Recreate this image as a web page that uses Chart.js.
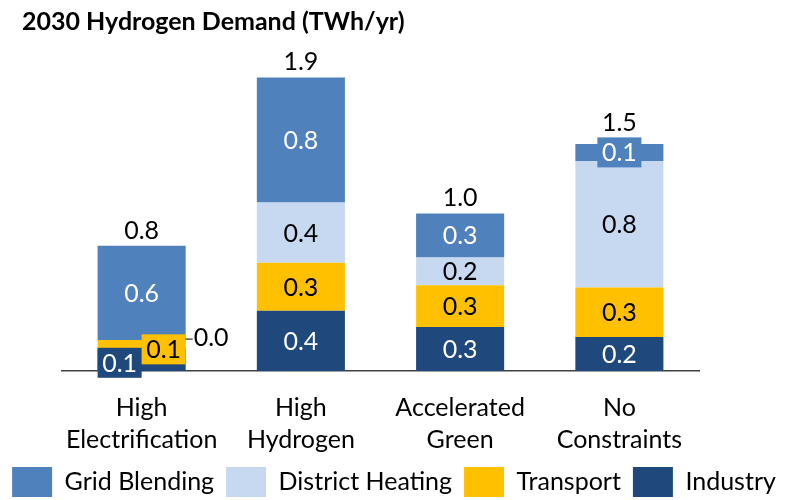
<!DOCTYPE html>
<html>
<head>
<meta charset="utf-8">
<script src="https://cdn.jsdelivr.net/npm/chart.js@4.4.1/dist/chart.umd.min.js"></script>
<style>
  html, body { margin: 0; padding: 0; background: #fff; }
</style>
</head>
<body>
<canvas id="chart" width="788" height="500"></canvas>
<script>
// values in TWh/yr
const scenarios = [['High', 'Electrification'], ['High', 'Hydrogen'], ['Accelerated', 'Green'], ['No', 'Constraints']];
const industry = [0.145, 0.39, 0.285, 0.22];
const transport = [0.055, 0.31, 0.27, 0.32];
const districtHeating = [0.0, 0.39, 0.18, 0.82];
const gridBlending = [0.61, 0.81, 0.285, 0.11];

const colors = {
  industry: '#1F497D',
  transport: '#FFC000',
  district: '#C6D9F1',
  grid: '#4F81BD',
};
// label text colour per dataset (same order as datasets below)
const labelColors = ['#fff', '#000', '#000', '#fff'];

// small segments get a boxed label nudged off the bar, like the original
const tweaks = {
  '0-0': { dx: -22, dy: 3, box: true },
  '1-0': { dx: 22, dy: 5, box: true },
  '2-0': { side: true },
  '3-3': { box: true },
  'total-3': { dy: -6 },
};

const FONT = 'Lato, sans-serif';
Chart.defaults.font.family = FONT;
Chart.defaults.color = '#000';

const segmentLabels = {
  id: 'segmentLabels',
  afterDatasetsDraw(chart) {
    const ctx = chart.ctx;
    ctx.save();
    ctx.font = '25px ' + FONT;
    ctx.textBaseline = 'middle';
    chart.data.datasets.forEach((ds, di) => {
      const meta = chart.getDatasetMeta(di);
      meta.data.forEach((bar, i) => {
        const text = ds.data[i].toFixed(1);
        const tw = tweaks[di + '-' + i] || {};
        const x = bar.x + (tw.dx || 0);
        const y = (bar.y + bar.base) / 2 + (tw.dy || 0);
        if (tw.side) {
          const right = bar.x + bar.width / 2;
          ctx.strokeStyle = '#000';
          ctx.lineWidth = 1;
          ctx.beginPath();
          ctx.moveTo(right, y - 1);
          ctx.lineTo(right + 7, y - 1);
          ctx.stroke();
          ctx.fillStyle = '#000';
          ctx.textAlign = 'left';
          ctx.fillText(text, right + 8, y - 2);
          return;
        }
        if (tw.box) {
          ctx.fillStyle = ds.backgroundColor;
          ctx.fillRect(x - 22, y - 15, 44, 30);
        }
        ctx.fillStyle = labelColors[di];
        ctx.textAlign = 'center';
        ctx.fillText(text, x, y + 1);
      });
    });

    // totals above each stack
    const topMeta = chart.getDatasetMeta(chart.data.datasets.length - 1);
    ctx.fillStyle = '#000';
    ctx.textAlign = 'center';
    ctx.textBaseline = 'alphabetic';
    scenarios.forEach((s, i) => {
      const total = chart.data.datasets.reduce((acc, ds) => acc + ds.data[i], 0);
      const bar = topMeta.data[i];
      const tw = tweaks['total-' + i] || {};
      ctx.fillText(total.toFixed(1), bar.x, bar.y - 7 + (tw.dy || 0));
    });

    // title
    ctx.font = 'bold 25px ' + FONT;
    ctx.textAlign = 'left';
    ctx.fillText('2030 Hydrogen Demand (TWh/yr)', 22, 30);
    ctx.restore();
  },
};

const hiddenAxis = (w) => ({
  display: true,
  grid: { display: false, drawTicks: false },
  border: { display: false },
  ticks: { display: false },
  afterFit(scale) { scale.width = w; },
});

new Chart(document.getElementById('chart'), {
  type: 'bar',
  data: {
    labels: scenarios,
    datasets: [
      { label: 'Industry', data: industry, backgroundColor: colors.industry },
      { label: 'Transport', data: transport, backgroundColor: colors.transport },
      { label: 'District Heating', data: districtHeating, backgroundColor: colors.district },
      { label: 'Grid Blending', data: gridBlending, backgroundColor: colors.grid },
    ],
  },
  options: {
    responsive: false,
    animation: false,
    devicePixelRatio: 1,
    layout: { padding: { top: 62, bottom: -7 } },
    datasets: { bar: { barPercentage: 0.553, categoryPercentage: 1, borderWidth: 0 } },
    scales: {
      x: {
        stacked: true,
        grid: { display: false, drawTicks: false },
        border: { display: true, color: '#404040', width: 1.5 },
        ticks: { color: '#000', font: { size: 25, lineHeight: 1.28 }, padding: 21, maxRotation: 0, autoSkip: false },
        afterFit(scale) { scale.height = 84; },
      },
      y: { stacked: true, min: 0, max: 2, ...hiddenAxis(62) },
      yR: { position: 'right', min: 0, max: 2, ...hiddenAxis(89) },
    },
    plugins: {
      title: { display: false },
      tooltip: { enabled: false },
      legend: {
        position: 'bottom',
        reverse: true,
        labels: { boxWidth: 40, boxHeight: 30, padding: 12, color: '#000', font: { size: 25 } },
      },
    },
  },
  plugins: [segmentLabels],
});
</script>
</body>
</html>
